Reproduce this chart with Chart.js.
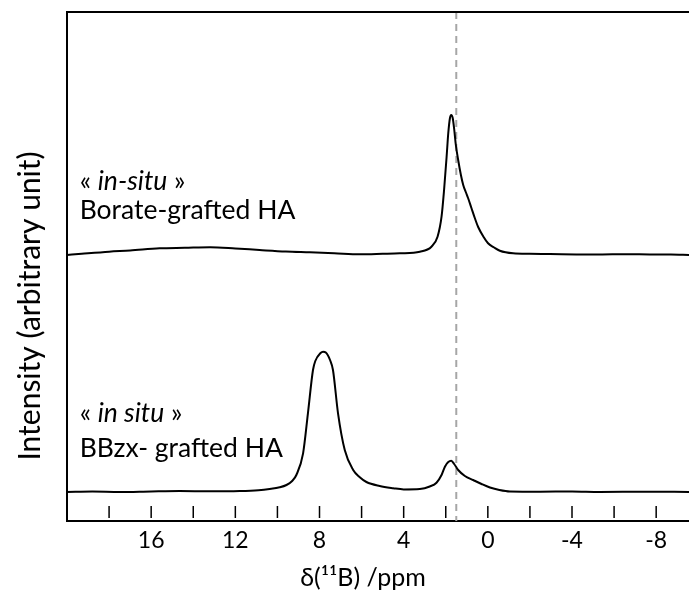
<!DOCTYPE html>
<html>
<head>
<meta charset="utf-8">
<script src="https://cdn.jsdelivr.net/npm/chart.js@4.4.0/dist/chart.umd.min.js"></script>
<style>
    html, body { margin: 0; padding: 0; background: #fff; }
    #wrap { width: 689px; height: 596px; }
</style>
</head>
<body>
<div id="wrap"><canvas id="nmrChart"></canvas></div>
<script>
// 11B NMR spectra (ppm / intensity in arbitrary units)
const ppmTop = [20.0, 19.3, 18.0, 17.0, 15.6, 14.4, 13.2, 12.0, 10.85, 9.6, 8.46, 7.3, 6.09, 5.0, 4.18, 3.23, 2.68, 2.39, 2.20, 2.08, 1.96, 1.88, 1.80, 1.74, 1.67, 1.60, 1.52, 1.41, 1.28, 1.17, 1.05, 0.94, 0.78, 0.62, 0.46, 0.2, -0.01, -0.3, -0.57, -1.20, -2.0, -2.95, -4.2, -5.33, -6.5, -7.70, -8.7, -9.56];
const intTop = [0, 1.2, 3.3, 4.5, 6.7, 7.2, 7.7, 6.5, 5, 3.5, 2.7, 1.8, 0.7, 1.2, 1.7, 3.3, 8.3, 18.3, 38.3, 65, 98, 122, 137, 140, 137, 126, 110, 95, 80, 70, 63, 57, 47, 37, 28, 18, 11.7, 7.5, 4.3, 1.7, 1.2, 1, 0.6, 0.5, 0.8, 0.5, 0.4, 0];

const ppmBottom = [20.0, 18.8, 17.5, 16.0, 14.65, 13.2, 11.79, 10.9, 10.37, 9.89, 9.57, 9.30, 9.10, 8.78, 8.55, 8.31, 8.2, 7.95, 7.83, 7.7, 7.5, 7.36, 7.12, 6.80, 6.40, 6.1, 5.77, 5.14, 4.5, 4.0, 3.23, 2.76, 2.44, 2.20, 2.04, 1.88, 1.74, 1.60, 1.41, 1.09, 0.70, 0.3, -0.10, -0.55, -1.05, -2.47, -4.0, -5.33, -7.5, -9.56];
const intBottom = [0, 0.4, 0, 0.6, 1, 0.7, 1, 1.8, 3, 4.7, 7, 11, 17, 38.7, 78.7, 122, 131, 139, 140.3, 139.5, 132, 122, 78.7, 42, 22, 15, 10, 6, 3.8, 2.6, 3, 5.5, 9.3, 17, 25.3, 30, 31.3, 28, 22, 16, 12, 8, 4.5, 2, 0.5, 0.3, 0.5, 0, 0.3, 0];

const topOffset = 237; // vertical stacking of the upper trace
const tickLabels = [16, 12, 8, 4, 0, -4, -8];
const minorTicks = [18, 16, 14, 12, 10, 8, 6, 4, 2, 0, -2, -4, -6, -8];
const refShift = 1.5; // dashed reference line

const FONT = "Lato, 'Open Sans', sans-serif";

const toPoints = (xs, ys, off) => xs.map((x, i) => ({ x: x, y: ys[i] + off }));

// draws "« " + italic word + " »"
function mixedText(ctx, parts, x, y, size) {
    let cx = x;
    parts.forEach(([txt, italic]) => {
        ctx.font = (italic ? "italic " : "") + size + "px " + FONT;
        ctx.fillText(txt, cx, y);
        cx += ctx.measureText(txt).width;
    });
}

const decor = {
    id: "decor",
    beforeDatasetsDraw(chart) {
        const { ctx, chartArea: a, scales: { x } } = chart;
        const px = x.getPixelForValue(refShift);
        ctx.save();
        ctx.strokeStyle = "#a6a6a6";
        ctx.lineWidth = 2;
        ctx.setLineDash([7, 5]);
        ctx.beginPath();
        ctx.moveTo(px, a.top);
        ctx.lineTo(px, a.bottom);
        ctx.stroke();
        ctx.restore();
    },
    afterDraw(chart) {
        const { ctx, chartArea: a, scales: { x, y } } = chart;
        ctx.save();
        // top frame line
        ctx.strokeStyle = "#000";
        ctx.lineWidth = 2;
        ctx.beginPath();
        ctx.moveTo(a.left - 1, a.top);
        ctx.lineTo(a.right, a.top);
        ctx.stroke();

        // inner tick marks
        ctx.lineWidth = 1.5;
        minorTicks.forEach((v) => {
            const px = x.getPixelForValue(v);
            ctx.beginPath();
            ctx.moveTo(px, a.bottom - 15);
            ctx.lineTo(px, a.bottom - 3);
            ctx.stroke();
        });

        // sample labels
        ctx.fillStyle = "#000";
        ctx.textAlign = "left";
        ctx.textBaseline = "alphabetic";
        const lx = x.getPixelForValue(19.4);
        mixedText(ctx, [["« ", false], ["in-situ", true], [" »", false]], lx, y.getPixelForValue(302), 26.5);
        mixedText(ctx, [["Borate-grafted HA", false]], lx, y.getPixelForValue(273), 26.5);
        mixedText(ctx, [["« ", false], ["in situ", true], [" »", false]], lx, y.getPixelForValue(70), 26.5);
        mixedText(ctx, [["BBzx- grafted HA", false]], lx, y.getPixelForValue(35), 26.5);

        // axis titles
        ctx.textAlign = "center";
        ctx.textBaseline = "middle";
        ctx.font = "25px " + FONT;
        ctx.fillText("δ(¹¹B) /ppm", 363, 578);

        ctx.translate(30, 306);
        ctx.rotate(-Math.PI / 2);
        ctx.font = "30px " + FONT;
        ctx.fillText("Intensity (arbitrary unit)", 0, 0);
        ctx.restore();
    },
};

const lineStyle = {
    borderColor: "#000",
    borderWidth: 2,
    pointRadius: 0,
    fill: false,
    cubicInterpolationMode: "monotone",
};

new Chart(document.getElementById("nmrChart").getContext("2d"), {
    type: "line",
    data: {
        datasets: [
            { label: "Borate-grafted HA", data: toPoints(ppmTop, intTop, topOffset), ...lineStyle },
            { label: "BBzx- grafted HA", data: toPoints(ppmBottom, intBottom, 0), ...lineStyle },
        ],
    },
    options: {
        responsive: true,
        maintainAspectRatio: false,
        animation: false,
        layout: { padding: { top: 12, right: 0, left: 0, bottom: 0 } },
        plugins: { legend: { display: false }, tooltip: { enabled: false } },
        scales: {
            x: {
                type: "linear",
                reverse: true,
                min: -9.56,
                max: 20,
                afterBuildTicks: (s) => { s.ticks = tickLabels.map((v) => ({ value: v })); },
                afterFit: (s) => { s.height = 75; },
                grid: { drawOnChartArea: false, drawTicks: false },
                border: { display: true, color: "#000", width: 2 },
                ticks: {
                    color: "#000",
                    padding: 6,
                    maxRotation: 0,
                    font: { family: FONT, size: 23 },
                },
            },
            y: {
                type: "linear",
                min: -29,
                max: 480,
                afterFit: (s) => { s.width = 67; },
                grid: { display: false },
                border: { display: true, color: "#000", width: 2 },
                ticks: { display: false },
            },
        },
    },
    plugins: [decor],
});
</script>
</body>
</html>
